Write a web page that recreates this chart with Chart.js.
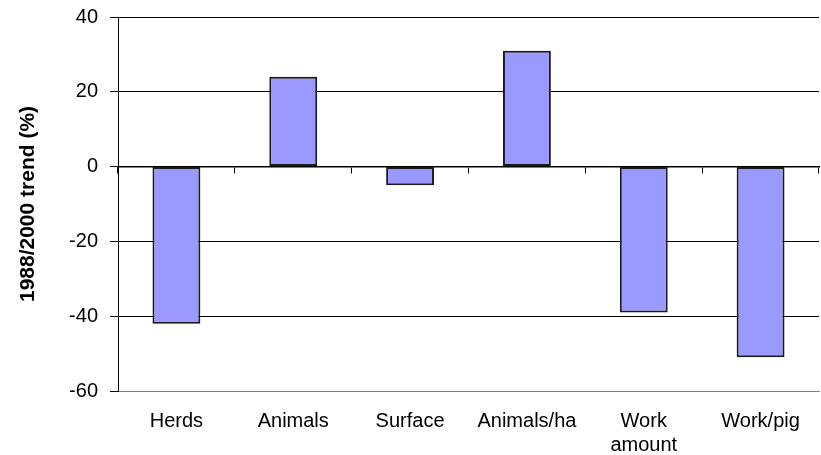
<!DOCTYPE html>
<html>
<head>
<meta charset="utf-8">
<script src="https://cdn.jsdelivr.net/npm/chart.js@4.4.1/dist/chart.umd.min.js"></script>
<style>
  html, body { margin: 0; padding: 0; background: #fff; }
  #wrap { width: 821px; height: 455px; }
</style>
</head>
<body>
<div id="wrap"><canvas id="trend-chart" width="821" height="455"></canvas></div>
<script>
const categories = ['Herds', 'Animals', 'Surface', 'Animals/ha', ['Work', 'amount'], 'Work/pig'];
const trend = [-42, 24, -5, 31, -39, -51];
const yTicks = [40, 20, 0, -20, -40, -60];

const fontFamily = '"Liberation Sans", Arial, sans-serif';
Chart.defaults.font.family = fontFamily;
Chart.defaults.color = '#000';

const ctx = document.getElementById('trend-chart');

new Chart(ctx, {
  type: 'bar',
  data: {
    labels: categories,
    datasets: [{
      label: '1988/2000 trend (%)',
      data: trend,
      backgroundColor: '#9999ff',
      borderColor: '#1a1a1a',
      borderWidth: 2,
      borderSkipped: false,
      barPercentage: 0.41,
      categoryPercentage: 1,
      xAxisID: 'x'
    }]
  },
  options: {
    responsive: false,
    animation: false,
    layout: { padding: { top: 17, right: 2, left: 0, bottom: 0 } },
    plugins: {
      legend: { display: false },
      tooltip: { enabled: false }
    },
    scales: {
      x: {
        type: 'category',
        position: 'bottom',
        grid: { display: false, drawTicks: false },
        border: { display: true, color: '#808080', width: 1 },
        ticks: {
          font: { size: 20 },
          color: '#000',
          padding: 18,
          maxRotation: 0,
          autoSkip: false
        },
        afterFit: scale => { scale.height = 64; }
      },
      // category axis running along zero, with tick marks between the bars
      zero: {
        type: 'category',
        axis: 'x',
        position: { y: 0 },
        offset: true,
        grid: {
          offset: true,
          drawOnChartArea: false,
          drawTicks: true,
          tickLength: 6,
          tickColor: '#000',
          tickWidth: 1
        },
        border: { display: true, color: '#000', width: 1.5 },
        ticks: { display: false }
      },
      y: {
        min: -60,
        max: 40,
        afterBuildTicks: scale => {
          scale.ticks = yTicks.map(v => ({ value: v }));
        },
        grid: {
          color: c => (c.tick && c.tick.value === -60) ? '#808080' : '#000',
          lineWidth: 1,
          tickLength: 8,
          tickColor: '#000'
        },
        border: { display: true, color: '#000', width: 1 },
        ticks: {
          font: { size: 20 },
          color: '#000',
          padding: 12
        },
        title: {
          display: true,
          text: '1988/2000 trend (%)',
          font: { size: 21, weight: 'bold' },
          color: '#000',
          padding: { top: 16, bottom: 0 }
        },
        afterFit: scale => {
          scale.width = 118;
          scale.paddingTop = 0;
          scale.paddingBottom = 0;
        }
      }
    }
  }
});
</script>
</body>
</html>
